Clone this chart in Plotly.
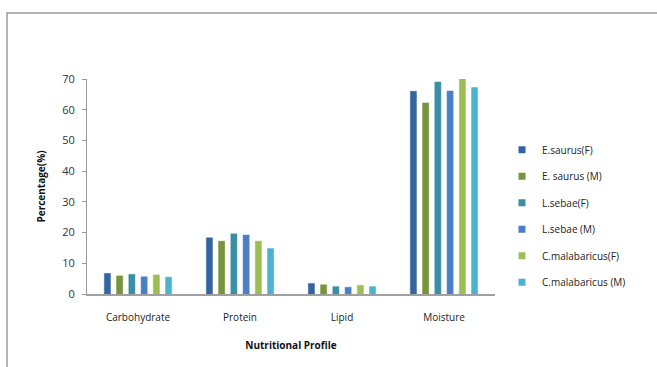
import plotly.graph_objects as go

categories = ["Carbohydrate", "Protein", "Lipid", "Moisture"]
series_names = ["E.saurus(F)", "E. saurus (M)", "L.sebae(F)", "L.sebae (M)",
                "C.malabaricus(F)", "C.malabaricus (M)"]
esaurus_f = [6.7, 18.3, 3.4, 66.0]
esaurus_m = [5.9, 17.2, 3.0, 62.2]
lsebae_f = [6.4, 19.6, 2.4, 69.0]
lsebae_m = [5.6, 19.2, 2.2, 66.1]
cmal_f = [6.2, 17.2, 2.8, 70.0]
cmal_m = [5.5, 14.8, 2.4, 67.2]
values = [esaurus_f, esaurus_m, lsebae_f, lsebae_m, cmal_f, cmal_m]
colors = ["#3465a0", "#77933c", "#3a8fa6", "#4a7fc6", "#9bbf55", "#4bb3d0"]

fig = go.Figure()
for i, (name, vals, col) in enumerate(zip(series_names, values, colors)):
    fig.add_trace(go.Bar(name=name, x=categories, y=vals, showlegend=False,
                         marker=dict(color=col, line=dict(color=col, width=0.5))))
for i, (name, col) in enumerate(zip(series_names, colors)):
    fig.add_trace(go.Scatter(name=name, x=[None], y=[None], mode="markers",
                             legendgroup="g%d" % i,
                             marker=dict(symbol="square", size=7, color=col)))

font = "Open Sans, DejaVu Sans, sans-serif"
W, H = 657, 367
ml, mr, mt, mb = 87, 162, 79, 73
pw, ph = W - ml - mr, H - mt - mb

def px(x):
    return (x - ml) / pw

def py(y):
    return (H - mb - y) / ph

fig.update_layout(
    width=W, height=H,
    margin=dict(l=ml, r=mr, t=mt, b=mb),
    paper_bgcolor="white", plot_bgcolor="white",
    barmode="group", bargap=0.28, bargroupgap=0.5,
    font=dict(family=font, size=10, color="#333333"),
    xaxis=dict(showgrid=False, showline=True, linecolor="#a0a0a0", linewidth=2,
               ticks="", ticklabelstandoff=13, tickfont=dict(size=10, color="#222222"),
               title=dict(text="<b>Nutritional Profile</b>", font=dict(size=10, color="#111111"),
                          standoff=19)),
    yaxis=dict(range=[0, 70], dtick=10, showgrid=False, showline=True,
               linecolor="#999999", linewidth=1, ticks="outside", ticklen=4,
               tickcolor="#999999", ticklabelstandoff=5,
               tickfont=dict(size=11, color="#333333"),
               zeroline=False,
               title=dict(text="<b>Percentage(%)</b>", font=dict(size=10, color="#111111"),
                          standoff=14)),
    legend=dict(x=px(502), y=py(146) + 0.05, xanchor="left", yanchor="top",
                font=dict(size=10, color="#222222"), tracegroupgap=7.5,
                itemwidth=30, bgcolor="rgba(0,0,0,0)"),
    shapes=[dict(type="rect", xref="paper", yref="paper",
                 x0=px(7), x1=px(W + 20), y0=py(H + 20), y1=py(13),
                 line=dict(color="#9a9a9a", width=1.5), layer="below")],
)

fig.write_html("out.html", config={"displayModeBar": False},
               post_script="document.body.style.margin='0';document.body.style.overflow='hidden';")
